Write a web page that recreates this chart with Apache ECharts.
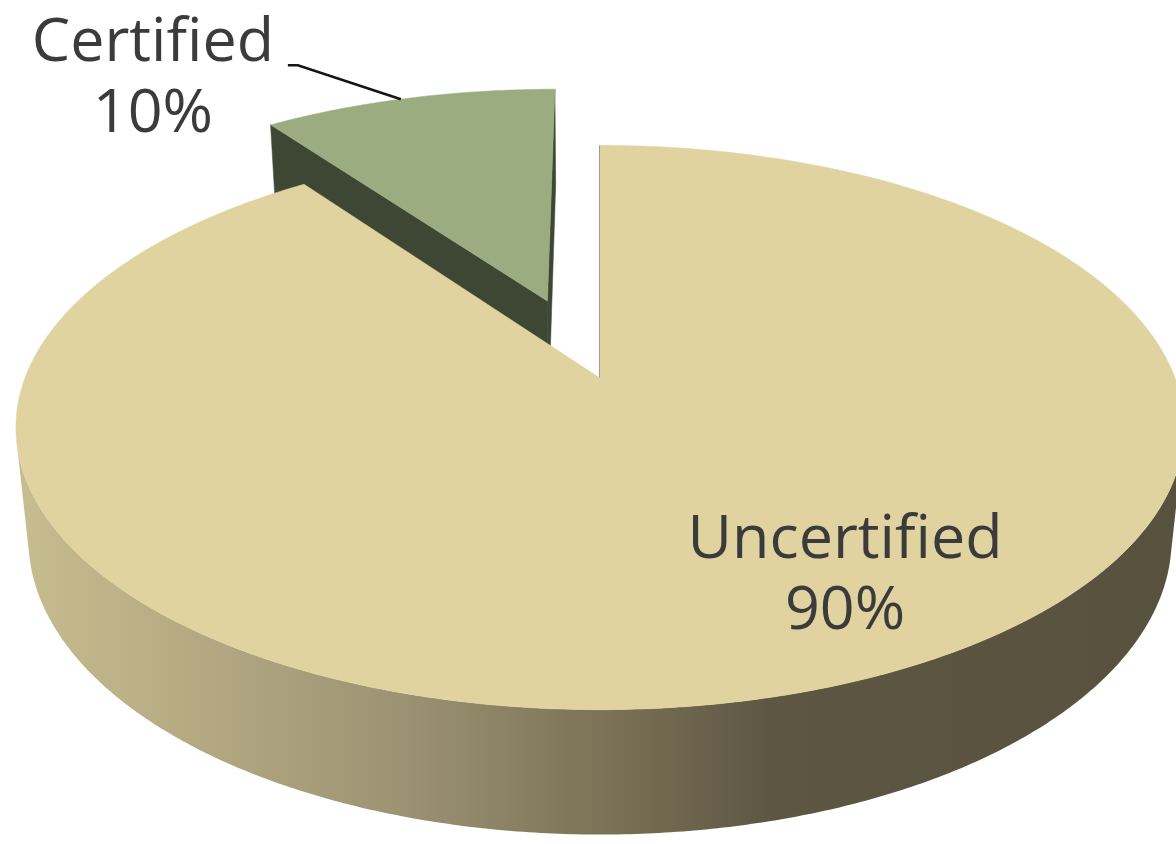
<!DOCTYPE html>
<html>
<head>
<meta charset="utf-8">
<script src="https://cdn.jsdelivr.net/npm/echarts@6/dist/echarts.min.js"></script>
<style>
html,body{margin:0;padding:0;background:#ffffff;}
#main{width:1176px;height:844px;}
</style>
</head>
<body>
<div id="main"></div>
<script>
// ---- data ----
const categories = ['Uncertified', 'Certified'];
const values = [90, 10];
const percentLabels = ['90%', '10%'];

// ---- styles / layout (kept separate from data) ----
const topColors = ['#E0D3A0', '#9BAD80'];
const faceColors = ['#5A5340', '#3D4733'];
const explodeDist = [0, 179];
const VIEW = { cx: 600, cy: 378, R: 575, H: 128, tilt: 28.4, D: 2883 };
const wallStops = [
  { offset: 0.00, color: '#C8BD8F' },
  { offset: 0.33, color: '#9D9373' },
  { offset: 0.50, color: '#7C7358' },
  { offset: 0.65, color: '#5D5642' },
  { offset: 1.00, color: '#58513E' }
];
const labelFont = { fontFamily: '"Open Sans", "Noto Sans", sans-serif', fontSize: 61, color: '#3B3B3B', lineHeight: 71 };
// inside label: radius fraction + angle shift on top face; outside label: leader from rim
const labelLayout = [
  { mode: 'inside', radius: 0.745, angleShift: -12.5 },
  { mode: 'outside', anchorShift: -1, elbowDx: -103, elbowDy: -34, tailDx: -10, textDx: -135, textDy: 14 }
];

const DEG = Math.PI / 180;
const sT = Math.sin(VIEW.tilt * DEG), cT = Math.cos(VIEW.tilt * DEG);
const CAM = [0, VIEW.D * sT, VIEW.D * cT]; // (X, Yw, Zd)

function project(X, Yw, Zd) {
  const depth = Zd * cT + Yw * sT;
  const f = VIEW.D / (VIEW.D - depth);
  return [VIEW.cx + X * f, VIEW.cy + (Zd * sT - Yw * cT) * f];
}
function rimPoint(phi, o, Yw, rFrac) {
  const r = VIEW.R * (rFrac == null ? 1 : rFrac);
  return project(o[0] + r * Math.sin(phi), Yw, o[1] - r * Math.cos(phi));
}

const total = values.reduce((a, b) => a + b, 0);
const starts = [];
(function () { let acc = 0; values.forEach(v => { starts.push(acc / total * 360); acc += v; }); })();

function renderItem(params, api) {
  const i = params.dataIndex;
  const v = api.value(0);
  const a = starts[i] * DEG;
  const b = (starts[i] + v / total * 360) * DEG;
  const mid = (a + b) / 2;
  const e = explodeDist[i];
  const o = [e * Math.sin(mid), -e * Math.cos(mid)]; // (X, Zd)
  const H = VIEW.H;
  const base = 100 + Math.round(-Math.cos(mid) * 50);
  const children = [];

  // curved outer wall (only camera-facing parts)
  const N = Math.max(4, Math.ceil((b - a) / (0.5 * DEG)));
  let run = [];
  const runs = [];
  for (let k = 0; k <= N; k++) {
    const phi = a + (b - a) * k / N;
    const n = [Math.sin(phi), 0, -Math.cos(phi)];
    const P = [o[0] + VIEW.R * n[0], 0, o[1] + VIEW.R * n[2]];
    const dot = n[0] * (CAM[0] - P[0]) + n[1] * (CAM[1] - P[1]) + n[2] * (CAM[2] - P[2]);
    if (dot > -40) { run.push(phi); } else if (run.length) { runs.push(run); run = []; }
  }
  if (run.length) runs.push(run);
  runs.forEach(rn => {
    if (rn.length < 2) return;
    const pts = rn.map(p => rimPoint(p, o, 0));
    for (let k = rn.length - 1; k >= 0; k--) pts.push(rimPoint(rn[k], o, -H));
    children.push({
      type: 'polygon', z2: base,
      shape: { points: pts },
      style: {
        fill: new echarts.graphic.LinearGradient(15, 0, 1180, 0, wallStops, true),
        stroke: null
      }
    });
  });

  // radial faces
  [[a, -1], [b, 1]].forEach(([phi, sgn]) => {
    const n = [sgn * Math.cos(phi), 0, sgn * Math.sin(phi)];
    const dot = n[0] * (CAM[0] - o[0]) + n[1] * CAM[1] + n[2] * (CAM[2] - o[1]);
    if (dot < -1) return;
    const edgeOn = Math.abs(dot) < 1;
    const pts = [
      project(o[0], 0, o[1]),
      rimPoint(phi, o, 0),
      rimPoint(phi, o, -H),
      project(o[0], -H, o[1])
    ];
    children.push({
      type: 'polygon', z2: base + 1,
      shape: { points: pts },
      style: edgeOn
        ? { fill: null, stroke: '#8E8B80', lineWidth: 2 }
        : { fill: faceColors[i], stroke: faceColors[i], lineWidth: 0.5 }
    });
  });

  // top face
  const topPts = [project(o[0], 0, o[1])];
  for (let k = 0; k <= N; k++) topPts.push(rimPoint(a + (b - a) * k / N, o, 0));
  children.push({
    type: 'polygon', z2: base + 2,
    shape: { points: topPts },
    style: { fill: topColors[i], stroke: topColors[i], lineWidth: 0.5 }
  });

  // labels
  const L = labelLayout[i];
  const txt = categories[i] + '\n' + percentLabels[i];
  const tStyle = {
    text: txt, fill: labelFont.color, fontSize: labelFont.fontSize,
    fontFamily: labelFont.fontFamily, lineHeight: labelFont.lineHeight,
    align: 'center', verticalAlign: 'middle'
  };
  if (L.mode === 'inside') {
    const p = rimPoint(mid + L.angleShift * DEG, o, 0, L.radius);
    children.push({ type: 'text', z2: 1000, style: Object.assign({ x: p[0], y: p[1] }, tStyle) });
  } else {
    const end = rimPoint(mid + L.anchorShift * DEG, o, 0);
    const elbow = [end[0] + L.elbowDx, end[1] + L.elbowDy];
    const tail = [elbow[0] + L.tailDx, elbow[1]];
    children.push({
      type: 'polyline', z2: 999,
      shape: { points: [end, elbow, tail] },
      style: { stroke: '#151515', lineWidth: 2.6, fill: null }
    });
    children.push({ type: 'text', z2: 1000, style: Object.assign({ x: tail[0] + L.textDx, y: tail[1] + L.textDy }, tStyle) });
  }

  return { type: 'group', children: children };
}

const chart = echarts.init(document.getElementById('main'), null, { renderer: 'canvas' });
chart.setOption({
  animation: false,
  backgroundColor: '#ffffff',
  series: [{
    type: 'custom',
    coordinateSystem: 'none',
    silent: true,
    renderItem: renderItem,
    data: values.map((v, i) => ({ name: categories[i], value: [v] }))
  }]
});
</script>
</body>
</html>
